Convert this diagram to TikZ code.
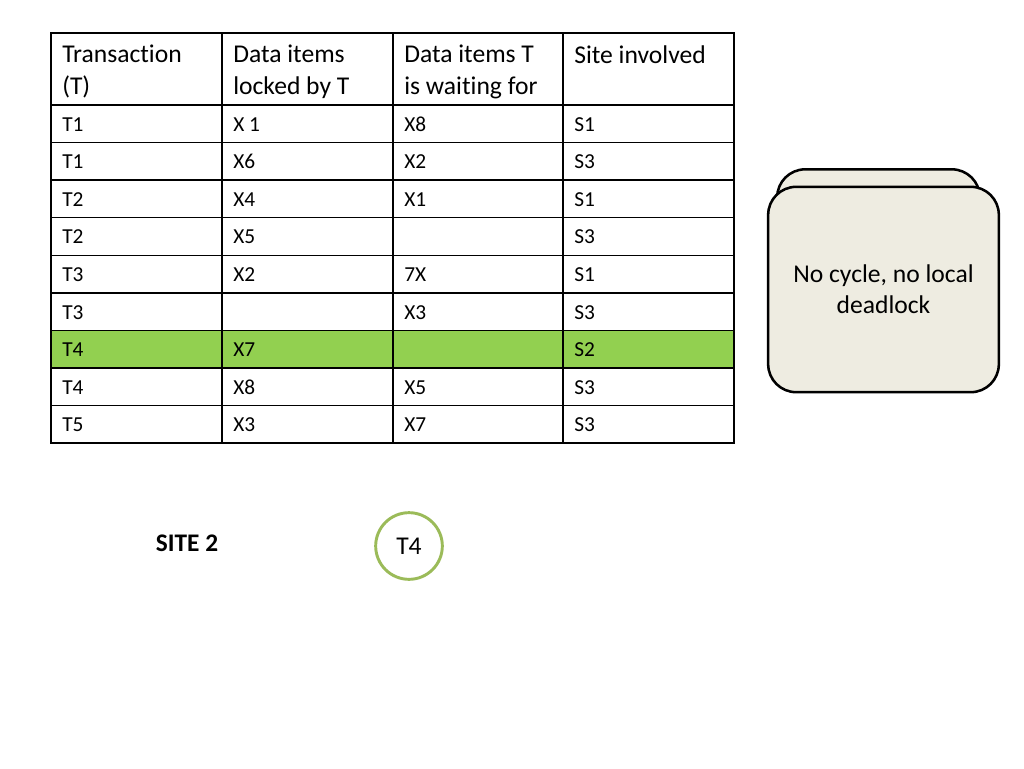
\documentclass[tikz,border=0pt]{standalone}
\usepackage{fontspec}
\setmainfont{Carlito}[Ligatures={NoCommon,NoRequired,NoContextual,NoRare}]
\usepackage{tikz}

\definecolor{rowgreen}{HTML}{92D050}
\definecolor{ringgreen}{HTML}{9BBB59}
\definecolor{notefill}{HTML}{EEECE1}

\tikzset{
  cell/.style={anchor=mid west, inner sep=0pt, font=\fontsize{16}{19}\selectfont},
  head/.style={anchor=north west, inner sep=0pt, align=left, font=\fontsize{19.2}{23.4}\selectfont},
  note/.style={draw, line width=1.9pt, fill=notefill, rounded corners=21pt, minimum width=173pt, minimum height=154pt},
}

\begin{document}
\begin{tikzpicture}[x=0.75pt,y=-0.75pt]
\useasboundingbox (0,0) rectangle (1024,768);
% table
\fill[rowgreen] (51,330.4) rectangle (734,368);
\draw[line width=1.1pt] (51,33) rectangle (734,443);
\foreach \x in {222,393,563}
  \draw[line width=1.1pt] (\x,33) -- (\x,443);
\foreach \i in {0,...,8}
  \draw[line width=1.1pt] (51,105+37.56*\i) -- (734,105+37.56*\i);
\node[head] (h1) at (62,45) {Transaction\\(T)};
\node[head] (h2) at (233,45) {Data items\\locked by T};
\node[head] (h3) at (404,45) {Data items T\\is wait\kern0pt ing for};
\node[head] (h4) at (574,45) {Site involved};
\foreach \i/\a/\b/\c/\d in {1/T1/X 1/X8/S1, 2/T1/X6/X2/S3, 3/T2/X4/X1/S1, 4/T2/X5/{}/S3,
    5/T3/X2/7X/S1, 6/T3/{}/X3/S3, 7/T4/X7/{}/S2, 8/T4/X8/X5/S3, 9/T5/X3/X7/S3} {
  \node[cell] (r\i a) at (62,90.5+37.56*\i) {\a};
  \node[cell] (r\i b) at (233,90.5+37.56*\i) {\b};
  \node[cell] (r\i c) at (404,90.5+37.56*\i) {\c};
  \node[cell] (r\i d) at (574,90.5+37.56*\i) {\d};
}
% note
\node[note, minimum width=152pt] (noteback) at (878.5,272) {};
\node[note, align=center, font=\fontsize{19.2}{23.4}\selectfont] (note) at (883.5,289.5) {No cycle, no local\\deadlock};
% site 2
\node[font=\bfseries\fontsize{19}{22}\selectfont] (site) at (187,543) {SITE 2};
\node[circle, draw=ringgreen, line width=2.2pt, minimum size=50pt, inner sep=0pt,
  font=\fontsize{19.2}{23}\selectfont] (t4) at (409,546) {T4};
\end{tikzpicture}
\end{document}
